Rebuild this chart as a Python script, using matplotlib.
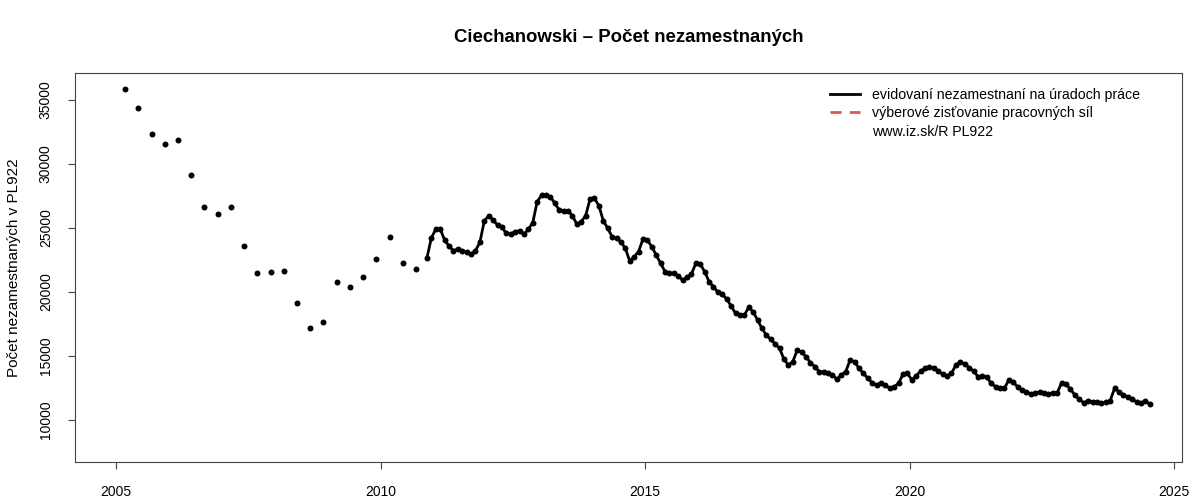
import matplotlib
matplotlib.use("Agg")
import matplotlib.pyplot as plt
from matplotlib.lines import Line2D
import numpy as np

plt.rcParams['font.family'] = ['Liberation Sans', 'DejaVu Sans']

# quarterly observations 2005 Q1 .. 2010 Q3
q_start = 2005 + 2 / 12
q_values = [35860, 34375, 32340, 31590, 31850, 29140, 26660, 26070, 26660,
            23620, 21480, 21590, 21640, 19120, 17210, 17630, 20780, 20410,
            21170, 22550, 24270, 22290, 21770]

# monthly registered unemployed, Nov 2010 .. Jul 2024
m_start = 2010 + 10.5 / 12
m_values = [
    22680, 24240, 24900, 24920, 24060, 23590, 23230, 23360, 23200, 23100,
    22950, 23230, 23880, 25550, 25960, 25630, 25230, 25050, 24580, 24530,
    24710, 24790, 24510, 24900, 25420, 27060, 27560, 27580, 27450, 26930,
    26410, 26350, 26350, 25960, 25290, 25500, 25960, 27270, 27320, 26740,
    25570, 24980, 24320, 24190, 23930, 23410, 22420, 22760, 23150, 24140,
    24060, 23540, 22890, 22250, 21600, 21460, 21460, 21250, 20940, 21150,
    21410, 22240, 22190, 21590, 20810, 20410, 19970, 19820, 19450, 18910,
    18330, 18200, 18200, 18800, 18460, 17810, 17160, 16640, 16300, 15940,
    15600, 14740, 14300, 14560, 15470, 15290, 14950, 14480, 14170, 13780,
    13730, 13700, 13520, 13180, 13520, 13780, 14690, 14560, 14040, 13650,
    13260, 12920, 12730, 12920, 12730, 12470, 12600, 12870, 13580, 13650,
    13130, 13460, 13830, 14040, 14170, 14040, 13830, 13580, 13460, 13650,
    14300, 14560, 14380, 14090, 13830, 13390, 13460, 13340, 12870, 12600,
    12520, 12470, 13130, 12950, 12600, 12340, 12210, 12030, 12090, 12190,
    12090, 12030, 12140, 12140, 12920, 12810, 12400, 11950, 11620, 11350,
    11510, 11430, 11430, 11300, 11380, 11510, 12470, 12210, 11950, 11820,
    11620, 11430, 11300, 11510, 11230]

x_ticks = [2005, 2010, 2015, 2020, 2025]
y_ticks = [10000, 15000, 20000, 25000, 30000, 35000]

title = "Ciechanowski \u2013 Po\u010det nezamestnan\u00fdch"
ylabel = "Po\u010det nezamestnan\u00fdch v PL922"
legend_labels = ["evidovan\u00ed nezamestnan\u00ed na \u00faradoch pr\u00e1ce",
                 "v\u00fdberov\u00e9 zis\u0165ovanie pracovn\u00fdch s\u00edl",
                 "www.iz.sk/R PL922"]

qx = q_start + 0.25 * np.arange(len(q_values))
mx = m_start + np.arange(len(m_values)) / 12

fig = plt.figure(figsize=(12, 5), dpi=100)
ax = fig.add_axes([75 / 1200, 38 / 500, (1182 - 75) / 1200, (462 - 73) / 500])

ax.plot(qx, q_values, 'o', color='black', markersize=4.3, markeredgewidth=0)
ax.plot(mx, m_values, '-', color='black', linewidth=2.0)
ax.plot(mx, m_values, 'o', color='black', markersize=4.3, markeredgewidth=0)

ax.set_xlim(2004.22, 2025.15)
ax.set_ylim(6720, 37110)
ax.set_xticks(x_ticks)
ax.set_yticks(y_ticks)
ax.set_yticklabels([str(v) for v in y_ticks], rotation=90, va='center')
ax.tick_params(axis='both', direction='out', length=5, width=0.8,
               labelsize=10, color='#444444')
ax.tick_params(axis='x', pad=11.5)
ax.tick_params(axis='y', pad=11)
for s in ax.spines.values():
    s.set_linewidth(0.8)
    s.set_color('#444444')

ax.set_ylabel(ylabel, fontsize=11, labelpad=13)
fig.text(628.5 / 1200, 1 - 38 / 500, title, ha='center', va='center',
         fontsize=13.4, fontweight='bold')

handles = [Line2D([], [], color='black', linewidth=2),
           Line2D([], [], color='#e05555', linewidth=2, linestyle=(0, (4, 3))),
           Line2D([], [], color='none')]
ax_w = 1182 - 75
ax_h = 462 - 73
leg = ax.legend(handles, legend_labels, loc='upper left', frameon=False,
                fontsize=10.2, handlelength=2.1, handletextpad=0.9,
                labelspacing=0.3, borderpad=0, borderaxespad=0,
                bbox_to_anchor=((830 - 75) / ax_w, 1 - (88 - 73) / ax_h))

fig.savefig("out.png", dpi=100)
